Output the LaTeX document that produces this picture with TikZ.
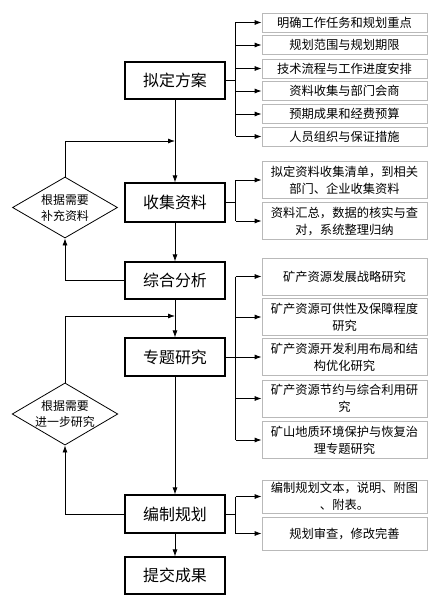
\documentclass[tikz,border=0pt]{standalone}
\usepackage{fontspec}
\setmainfont{Noto Sans CJK SC}
\usetikzlibrary{positioning,shapes.geometric,arrows.meta}

\begin{document}
\begin{tikzpicture}[x=1bp,y=-1bp,line width=0.8bp,
    >={Latex[length=7bp,width=5bp]},
    stage/.style={draw,line width=1.1bp,minimum width=100bp,minimum height=37bp,
        inner sep=0pt,font=\fontsize{16}{18}\selectfont},
    item/.style={draw=gray!55,line width=0.8bp,minimum width=165bp,inner sep=0pt,
        align=center,font=\fontsize{12.3}{17}\selectfont},
    check/.style={diamond,draw,aspect=1.7,minimum width=105bp,minimum height=61bp,
        inner sep=0pt,align=center,font=\fontsize{12}{16}\selectfont}]
    \useasboundingbox (0,0) rectangle (438,607);

    % Main stages
    \node[stage] (plan) at (175,80.5) {拟定方案};
    \node[stage,minimum height=39bp] (collect) at (175,202.5) {收集资料};
    \node[stage] (analyze) at (175,280.5) {综合分析};
    \node[stage,minimum height=38bp] (study) at (175,357) {专题研究};
    \node[stage,minimum height=38bp] (compile) at (175,514) {编制规划};
    \node[stage] (submit) at (175,575.5) {提交成果};

    \draw[->] (plan.south) -- (collect.north);
    \draw[->] (collect.south) -- (analyze.north);
    \draw[->] (analyze.south) -- (study.north);
    \draw[->] (study.south) -- (compile.north);
    \draw[->] (compile.south) -- (submit.north);

    % Loops back
    \node[check] (check1) at (65,207.5) {根据需要\\补充资料};
    \node[check] (check2) at (65,414) {根据需要\\进一步研究};
    \coordinate (back1) at (175,141);
    \coordinate (back2) at (175,316);
    \draw[->] (analyze.west) -| (check1.south);
    \draw[->] (check1.north) |- (back1);
    \draw[->] (compile.west) -| (check2.south);
    \draw[->] (check2.north) |- (back2);

    % Plan items
    \foreach \i/\y/\t in {1/22.5/明确工作任务和规划重点, 2/45/规划范围与规划期限,
        3/68.5/技术流程与工作进度安排, 4/91/资料收集与部门会商,
        5/114/预期成果和经费预算, 6/136.5/人员组织与保证措施} {
        \node[item,minimum height=19bp] (a\i) at (344.5,\y) {\t};
    }
    \draw (plan.east) -- ++(10,0) coordinate (busA);
    \draw (busA |- a1) -- (busA |- a6);
    \foreach \i in {1,...,6} {
        \draw[->] (busA |- a\i) -- (a\i.west);
    }

    % Collection items
    \node[item,minimum height=37bp] (b1) at (344.5,180) {拟定资料收集清单，到相关\\部门、企业收集资料};
    \node[item,minimum height=37bp] (b2) at (344.5,221) {资料汇总，数据的核实与查\\对，系统整理归纳};
    \draw (collect.east) -- ++(10,0) coordinate (busB);
    \draw (busB |- b1) -- (busB |- b2);
    \foreach \i in {1,2} {
        \draw[->] (busB |- b\i) -- (b\i.west);
    }

    % Study items
    \node[item,minimum height=37bp] (c1) at (344.5,276.5) {矿产资源发展战略研究};
    \node[item,minimum height=37bp] (c2) at (344.5,317) {矿产资源可供性及保障程度\\研究};
    \node[item,minimum height=37bp] (c3) at (344.5,357) {矿产资源开发利用布局和结\\构优化研究};
    \node[item,minimum height=37bp] (c4) at (344.5,398.5) {矿产资源节约与综合利用研\\究};
    \node[item,minimum height=37bp] (c5) at (344.5,440) {矿山地质环境保护与恢复治\\理专题研究};
    \path (study.east) ++(10,0) coordinate (busC);
    \draw (busC |- c1) -- (busC |- c5);
    \foreach \i in {1,...,5} {
        \draw[->] (busC |- c\i) -- (c\i.west);
    }
    \draw (study.east) -- (busC);

    % Compile items
    \node[item,minimum height=33bp] (d1) at (344.5,496.5) {编制规划文本，说明、附图\\、附表。};
    \node[item,minimum height=33bp] (d2) at (344.5,533.5) {规划审查，修改完善};
    \draw (compile.east) -- ++(10,0) coordinate (busD);
    \draw (busD |- d1) -- (busD |- d2);
    \foreach \i in {1,2} {
        \draw[->] (busD |- d\i) -- (d\i.west);
    }
\end{tikzpicture}
\end{document}
